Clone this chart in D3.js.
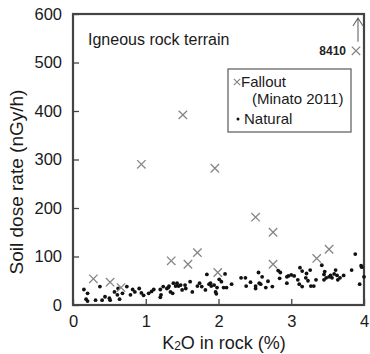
<!DOCTYPE html>
<html>
<head>
<meta charset="utf-8">
<script src="https://cdn.jsdelivr.net/npm/d3@7"></script>
<style>
  html, body { margin: 0; padding: 0; background: #fff; }
  svg { display: block; font-family: Arial, "Liberation Sans", Helvetica, sans-serif; }
</style>
</head>
<body>
<svg id="chart" width="370" height="354"></svg>
<script>
// Axis ticks
const xTicks = [0, 1, 2, 3, 4];
const yTicks = [0, 100, 200, 300, 400, 500, 600];

// Fallout dose rates (Minato 2011): K2O %, nGy/h
const falloutK2O  = [0.28, 0.51, 0.66, 0.94, 1.35, 1.51, 1.58, 1.71, 1.95, 1.99, 2.51, 2.75, 2.75, 3.35, 3.52, 3.89];
const falloutDose = [54,   47,   36,   290,  91,   392,  84,   108,  282,  67,   181,  150,  84,   96,   115,  524];
// The off-scale point is drawn at the top edge and labelled with its true value
const offscaleLabel = "8410";

// Natural dose rates: K2O %, nGy/h
const naturalK2O = [
  0.15, 0.20, 0.18, 0.20, 0.31, 0.37, 0.40, 0.44, 0.50, 0.51, 0.57, 0.61, 0.64, 0.62, 0.68, 0.74, 0.79, 0.82, 0.85, 0.91, 0.94, 0.97,
  1.04, 1.08, 1.11, 1.20, 1.21, 1.20, 1.24, 1.29, 1.31, 1.32, 1.34, 1.37, 1.38, 1.41, 1.43, 1.45, 1.48, 1.50, 1.54, 1.55, 1.61, 1.64,
  1.71, 1.74, 1.77, 1.82, 1.84, 1.87, 1.89, 1.90, 1.94, 1.96, 1.97, 1.98, 2.01,
  2.04, 2.09, 2.07, 2.11, 2.18, 2.31, 2.37, 2.38, 2.44, 2.51, 2.51, 2.55, 2.56, 2.58, 2.60, 2.65, 2.68, 2.74, 2.82, 2.85, 2.84, 2.94, 2.94, 2.96, 3.00,
  3.04, 3.12, 3.15, 3.09, 3.11, 3.15, 3.20, 3.21, 3.23, 3.26, 3.27, 3.31, 3.34, 3.42, 3.45, 3.46, 3.45, 3.48, 3.52, 3.54, 3.56, 3.59, 3.61, 3.63, 3.64, 3.67, 3.72, 3.83, 3.88, 3.96, 3.97, 4.00, 3.94
];
const naturalDose = [
  32, 24, 12, 8, 10, 38, 10, 17, 14, 10, 27, 21, 12, 34, 24, 38, 21, 32, 27, 34, 25, 20,
  24, 28, 32, 32, 21, 16, 38, 34, 36, 39, 27, 24, 45, 39, 45, 39, 41, 31, 41, 34, 48, 27,
  39, 45, 38, 31, 63, 43, 45, 39, 41, 27, 23, 36, 53,
  48, 64, 36, 36, 43, 56, 56, 39, 47, 39, 34, 67, 45, 43, 58, 36, 49, 38, 71, 67, 55, 58, 45, 60, 62,
  60, 77, 70, 52, 43, 38, 56, 65, 50, 72, 39, 39, 52, 82, 63, 69, 52, 56, 58, 61, 56, 64, 72, 61, 52, 56, 61, 72, 105, 81, 78, 58, 43
];

const svg = d3.select("#chart");
const plot = { left: 73, right: 364, top: 14, bottom: 305 };

const x = d3.scaleLinear().domain([0, 4]).range([plot.left, plot.right]);
const y = d3.scaleLinear().domain([0, 600]).range([plot.bottom, plot.top]);

const frameColor = "#444";
const textColor = "#1a1a1a";
const crossColor = "#868686";

// Axes with inward ticks
const yAxis = d3.axisLeft(y).tickValues(yTicks).tickSize(-6).tickPadding(11).tickFormat(d3.format("d"));
const xAxis = d3.axisBottom(x).tickValues(xTicks).tickSize(-6).tickPadding(10).tickFormat(d3.format("d"));

const gy = svg.append("g").attr("transform", `translate(${plot.left},0)`).call(yAxis);
const gx = svg.append("g").attr("transform", `translate(0,${plot.bottom})`).call(xAxis);
[gx, gy].forEach(g => {
  g.select(".domain").remove();
  g.selectAll(".tick line").attr("stroke", frameColor).attr("stroke-width", 1.3);
  g.selectAll(".tick text").attr("fill", textColor).style("font-size", "16.5px");
});

// Plot frame
svg.append("rect")
  .attr("x", plot.left).attr("y", plot.top)
  .attr("width", plot.right - plot.left).attr("height", plot.bottom - plot.top)
  .attr("fill", "none").attr("stroke", frameColor).attr("stroke-width", 2.2);

// Natural points
svg.append("g").selectAll("circle")
  .data(naturalK2O.map((k, i) => [k, naturalDose[i]]))
  .join("circle")
  .attr("cx", d => x(d[0])).attr("cy", d => y(d[1]))
  .attr("r", 1.9).attr("fill", "#111");

// Fallout crosses
const cross = (cx, cy, s) => `M${cx - s},${cy - s}L${cx + s},${cy + s}M${cx - s},${cy + s}L${cx + s},${cy - s}`;
svg.append("g").selectAll("path")
  .data(falloutK2O.map((k, i) => [k, falloutDose[i]]))
  .join("path")
  .attr("d", d => cross(x(d[0]), y(d[1]), 4.2))
  .attr("stroke", crossColor).attr("stroke-width", 1.3).attr("fill", "none");

// Off-scale marker: label and upward arrow
const last = falloutK2O.length - 1;
const ox = x(falloutK2O[last]), oy = y(falloutDose[last]);
svg.append("text")
  .attr("x", ox - 10).attr("y", oy + 4)
  .attr("text-anchor", "end")
  .attr("fill", "#222").style("font-size", "12px").style("font-weight", "bold")
  .text(offscaleLabel);
const ax = ox + 2;
svg.append("path")
  .attr("d", `M${ax},${oy - 9}L${ax},${plot.top + 4}M${ax - 5},${plot.top + 12}L${ax},${plot.top + 4}L${ax + 5},${plot.top + 12}`)
  .attr("stroke", "#666").attr("stroke-width", 1.1).attr("fill", "none");

// Panel title
svg.append("text")
  .attr("x", 88).attr("y", 45)
  .attr("fill", textColor).style("font-size", "16px")
  .text("Igneous rock terrain");

// Legend
const lg = svg.append("g");
lg.append("rect").attr("x", 228).attr("y", 69).attr("width", 123).attr("height", 63)
  .attr("fill", "#fff").attr("stroke", "#666").attr("stroke-width", 1.3);
lg.append("path").attr("d", cross(237, 82, 3.2))
  .attr("stroke", crossColor).attr("stroke-width", 1.2).attr("fill", "none");
lg.append("text").attr("x", 241).attr("y", 87).attr("fill", textColor).style("font-size", "15px").text("Fallout");
lg.append("text").attr("x", 252).attr("y", 104).attr("fill", textColor).style("font-size", "15px").text("(Minato 2011)");
lg.append("circle").attr("cx", 238).attr("cy", 119).attr("r", 1.5).attr("fill", "#111");
lg.append("text").attr("x", 244).attr("y", 124).attr("fill", textColor).style("font-size", "15px").text("Natural");

// Axis titles
const xl = svg.append("text")
  .attr("x", 224).attr("y", 349)
  .attr("text-anchor", "middle")
  .attr("fill", textColor).style("font-size", "18px");
xl.append("tspan").text("K");
xl.append("tspan").style("font-size", "12px").attr("dy", 1).text("2");
xl.append("tspan").attr("dy", -1).text("O in rock (%)");

svg.append("text")
  .attr("transform", `translate(23,182) rotate(-90)`)
  .attr("text-anchor", "middle")
  .attr("fill", textColor).style("font-size", "19px")
  .text("Soil dose rate (nGy/h)");
</script>
</body>
</html>
